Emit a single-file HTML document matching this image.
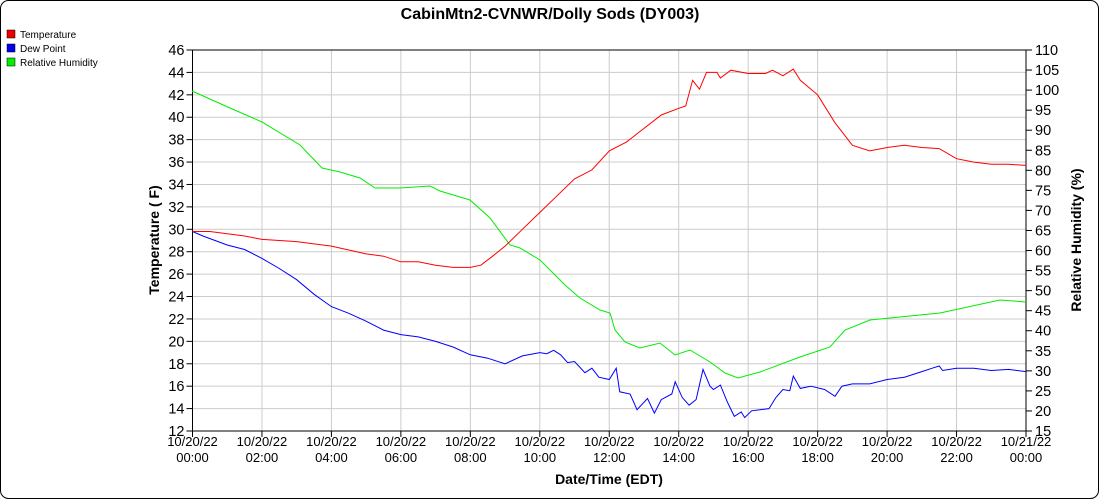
<!DOCTYPE html>
<html><head><meta charset="utf-8"><style>
html,body{margin:0;padding:0;background:#fff;}
svg{display:block;font-family:"Liberation Sans",Arial,sans-serif;}
</style></head><body>
<svg id="s" width="1100" height="500" xmlns="http://www.w3.org/2000/svg">
<rect x="0.5" y="0.5" width="1098" height="498" rx="8" fill="#fff" stroke="#000"/>
<text x="550" y="19" text-anchor="middle" font-size="16" font-weight="bold">CabinMtn2-CVNWR/Dolly Sods (DY003)</text>
<rect x="7" y="30" width="8" height="8" fill="#e00" stroke="#000" stroke-width="0.5"/><text x="20" y="38" font-size="10">Temperature</text>
<rect x="7" y="44" width="8" height="8" fill="#00e" stroke="#000" stroke-width="0.5"/><text x="20" y="52" font-size="10">Dew Point</text>
<rect x="7" y="58" width="8" height="8" fill="#0e0" stroke="#000" stroke-width="0.5"/><text x="20" y="66" font-size="10">Relative Humidity</text>
<g id="g"></g>
<text transform="translate(159,240) rotate(-90)" text-anchor="middle" font-size="14" font-weight="bold">Temperature ( F)</text>
<text transform="translate(1081,240) rotate(-90)" text-anchor="middle" font-size="14" font-weight="bold">Relative Humidity (%)</text>
<text x="609" y="484" text-anchor="middle" font-size="14" font-weight="bold">Date/Time (EDT)</text>
</svg>
<script>
var L=192.5,R=1026,T=50,B=431,W=R-L,H=B-T;
var g=document.getElementById('g'),o='';
function ty(v){return T+(46-v)/34*H;}
function ry(v){return T+(110-v)/95*H;}
function hx(h){return L+h/24*W;}
for(var v=12;v<=46;v+=2){var y=ty(v);o+='<line x1="'+L+'" x2="'+R+'" y1="'+y+'" y2="'+y+'" stroke="#ccc"/>';
o+='<line x1="'+(L-6)+'" x2="'+L+'" y1="'+y+'" y2="'+y+'" stroke="#000"/><text x="'+(L-8)+'" y="'+(y+5)+'" text-anchor="end" font-size="14.5">'+v+'</text>';}
for(var v=15;v<=110;v+=5){var y=ry(v);o+='<line x1="'+R+'" x2="'+(R+6)+'" y1="'+y+'" y2="'+y+'" stroke="#000"/><text x="'+(R+9)+'" y="'+(y+5)+'" font-size="14.5">'+v+'</text>';}
for(var h=0;h<=24;h+=2){var x=hx(h);o+='<line x1="'+x+'" x2="'+x+'" y1="'+T+'" y2="'+B+'" stroke="#ccc"/><line x1="'+x+'" x2="'+x+'" y1="'+B+'" y2="'+(B+6)+'" stroke="#000"/>';
var d=h<24?'10/20/22':'10/21/22',hh=h<24?(h<10?'0'+h:h)+':00':'00:00';
o+='<text x="'+x+'" y="'+(B+15)+'" text-anchor="middle" font-size="13">'+d+'</text><text x="'+x+'" y="'+(B+31)+'" text-anchor="middle" font-size="13">'+hh+'</text>';}
o+='<line x1="'+L+'" x2="'+L+'" y1="'+T+'" y2="'+B+'" stroke="#000"/><line x1="'+R+'" x2="'+R+'" y1="'+T+'" y2="'+B+'" stroke="#000"/><line x1="'+L+'" x2="'+R+'" y1="'+T+'" y2="'+T+'" stroke="#000"/><line x1="'+L+'" x2="'+R+'" y1="'+B+'" y2="'+B+'" stroke="#000"/>';
var tp=[[0,29.8],[0.5,29.8],[1,29.6],[1.5,29.4],[2,29.1],[3,28.9],[4,28.5],[5,27.8],[5.5,27.6],[6,27.1],[6.5,27.1],[7,26.8],[7.5,26.6],[8,26.6],[8.3,26.8],[8.6,27.5],[9,28.5],[9.5,30],[10,31.5],[10.5,33],[11,34.5],[11.5,35.3],[12,37],[12.5,37.8],[13,39],[13.5,40.2],[14,40.8],[14.2,41],[14.4,43.3],[14.6,42.5],[14.8,44],[15.1,44],[15.2,43.5],[15.5,44.2],[16,43.9],[16.5,43.9],[16.7,44.2],[17,43.7],[17.3,44.3],[17.5,43.3],[18,42],[18.5,39.5],[19,37.5],[19.5,37],[20,37.3],[20.5,37.5],[21,37.3],[21.5,37.2],[22,36.3],[22.5,36],[23,35.8],[23.5,35.8],[24,35.7]];
var dp=[[0,29.8],[0.3,29.4],[1,28.6],[1.5,28.2],[2,27.4],[2.5,26.5],[3,25.5],[3.5,24.2],[4,23.1],[4.5,22.5],[5,21.8],[5.5,21],[6,20.6],[6.5,20.4],[7,20],[7.5,19.5],[8,18.8],[8.5,18.5],[9,18],[9.5,18.7],[10,19],[10.2,18.9],[10.4,19.2],[10.6,18.8],[10.8,18.1],[11,18.2],[11.3,17.2],[11.5,17.6],[11.7,16.8],[12,16.6],[12.2,17.6],[12.3,15.5],[12.6,15.3],[12.8,13.9],[13.1,14.9],[13.3,13.6],[13.5,14.8],[13.8,15.3],[13.9,16.4],[14.1,15],[14.3,14.3],[14.5,14.8],[14.7,17.5],[14.9,16],[15,15.7],[15.2,16.1],[15.4,14.6],[15.6,13.3],[15.8,13.7],[15.9,13.2],[16.1,13.8],[16.6,14],[16.8,15],[17,15.7],[17.2,15.6],[17.3,16.9],[17.5,15.8],[17.8,16],[18.2,15.7],[18.5,15.1],[18.7,16],[19,16.2],[19.5,16.2],[20,16.6],[20.5,16.8],[21,17.3],[21.3,17.6],[21.5,17.8],[21.6,17.4],[22,17.6],[22.5,17.6],[23,17.4],[23.5,17.5],[24,17.3]];
var rh=[[192,91],[230,108],[262,122],[300,145],[322,168],[340,172],[360,178],[375,188],[400,188],[430,186],[440,191],[470,200],[490,218],[510,245],[520,248],[540,260],[565,285],[580,298],[600,310],[610,313],[615,330],[625,342],[640,348],[660,343],[675,355],[690,350],[710,362],[725,373],[738,378],[760,372],[800,357],[830,347],[845,330],[870,320],[900,317],[940,313],[1000,300],[1026,302]];
function pl(a,f,c){return '<polyline fill="none" stroke="'+c+'" stroke-width="1" points="'+a.map(f).join(' ')+'"/>';}
o+=pl(rh,function(p){return p[0]+','+p[1];},'#0e0');
o+=pl(dp,function(p){return hx(p[0]).toFixed(1)+','+ty(p[1]).toFixed(1);},'#00f');
o+=pl(tp,function(p){return hx(p[0]).toFixed(1)+','+ty(p[1]).toFixed(1);},'#f00');
g.innerHTML=o;
</script>
</body></html>
